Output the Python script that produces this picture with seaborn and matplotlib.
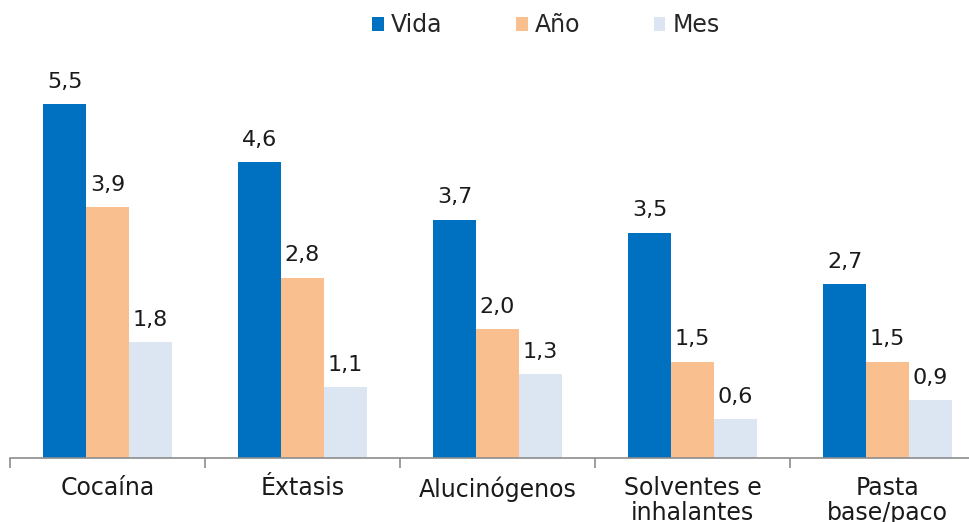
import matplotlib
matplotlib.use("Agg")
import matplotlib.pyplot as plt
import seaborn as sns
import pandas as pd
from matplotlib.patches import Patch

# ── Datos ─────────────────────────────────────────────────────────────────────
categorias = ["Cocaína", "Éxtasis", "Alucinógenos", "Solventes e\ninhalantes", "Pasta\nbase/paco"]
series = ["Vida", "Año", "Mes"]
vida = [5.5, 4.6, 3.7, 3.5, 2.7]
anio = [3.9, 2.8, 2.0, 1.5, 1.5]
mes = [1.8, 1.1, 1.3, 0.6, 0.9]
colores = ["#0070C0", "#F9BF8F", "#DCE6F2"]

df = pd.DataFrame({
    "categoria": categorias * 3,
    "serie": [s for s in series for _ in categorias],
    "valor": vida + anio + mes,
})

sns.set_theme(style="white")
plt.rcParams["font.family"] = ["DejaVu Sans"]

fig = plt.figure(figsize=(9.7, 5.22), dpi=100)
ax = fig.add_axes([10 / 970, 64 / 522, 975 / 970, 386 / 522])

sns.barplot(data=df, x="categoria", y="valor", hue="serie", order=categorias,
            hue_order=series, palette=colores, width=0.66, saturation=1,
            linewidth=0, ax=ax, legend=False)

# etiquetas de valor con coma decimal
for cont in ax.containers:
    ax.bar_label(cont, labels=[f"{b.get_height():.1f}".replace(".", ",") for b in cont],
                 padding=9, fontsize=16, color="#1a1a1a")

ax.set_ylim(0, 6)
ax.set_xlim(-0.5, 4.5)
ax.set_xlabel("")
ax.set_ylabel("")
ax.set_yticks([])
for s in ["top", "right", "left"]:
    ax.spines[s].set_visible(False)
ax.spines["bottom"].set_color("#8c8c8c")
ax.spines["bottom"].set_linewidth(1.2)

# ticks en los límites de cada grupo, etiquetas centradas
ax.set_xticks(range(len(categorias)))
ax.set_xticklabels(categorias, fontsize=17, color="#1a1a1a", linespacing=1.05)
ax.set_xticks([i - 0.5 for i in range(len(categorias) + 1)], minor=True)
ax.tick_params(axis="x", which="major", length=0, pad=13)
ax.tick_params(axis="x", which="minor", length=7, width=1.2, color="#8c8c8c",
               direction="out", bottom=True)

handles = [Patch(facecolor=c, edgecolor="none") for c in colores]
fig.legend(handles, series, loc="upper center", bbox_to_anchor=(546 / 970, 1.015),
           ncol=3, frameon=False, fontsize=17, handlelength=0.5, handleheight=0.5,
           handletextpad=0.3, columnspacing=3.1)

fig.savefig("out.png", dpi=100)
